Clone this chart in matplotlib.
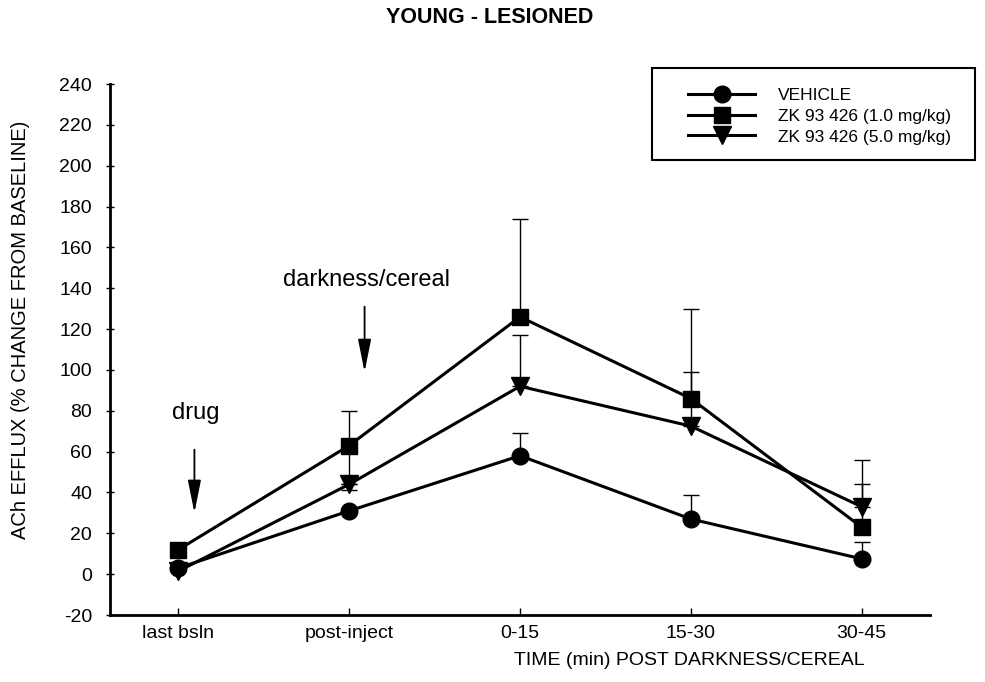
import numpy as np
import matplotlib
matplotlib.use("Agg")
import matplotlib.pyplot as plt
from matplotlib.patches import Rectangle

plt.rcParams['font.family'] = ['Liberation Sans', 'DejaVu Sans']
plt.rcParams['axes.unicode_minus'] = False

# data
categories = ['last bsln', 'post-inject', '0-15', '15-30', '30-45']

vehicle = [3, 31, 58, 27, 7.5]
vehicle_err = [0, 0, 11, 12, 8.5]

zk1 = [12, 63, 126, 86, 23]
zk1_err_lo = [0, 22, 0, 0, 0]
zk1_err_hi = [0, 17, 48, 44, 21]

zk5 = [1.5, 44, 92, 72.5, 33]
zk5_err = [0, 0, 25, 26.5, 23]

fig = plt.figure(figsize=(9.85, 6.82), dpi=100)
ax = fig.add_axes([0.1117, 0.0982, 0.8325, 0.7786])

x = np.arange(len(categories))
lw = 2.2

# error bars first, then lines with markers on top
for vals, lo, hi in [(vehicle, np.zeros(5), vehicle_err),
                     (zk1, zk1_err_lo, zk1_err_hi),
                     (zk5, np.zeros(5), zk5_err)]:
    ax.errorbar(x, vals, yerr=[lo, hi], fmt='none', ecolor='black',
                elinewidth=1, capsize=6, capthick=1)

ax.plot(x, vehicle, color='black', lw=lw, marker='o', ms=12,
        label='VEHICLE')
ax.plot(x, zk1, color='black', lw=lw, marker='s', ms=12,
        label='ZK 93 426 (1.0 mg/kg)')
ax.plot(x, zk5, color='black', lw=lw, marker='v', ms=13,
        label='ZK 93 426 (5.0 mg/kg)')

ax.set_xlim(-0.4, 4.4)
ax.set_ylim(-20, 240)
ax.set_yticks(np.arange(-20, 241, 20))
ax.set_xticks(x)
ax.set_xticklabels(categories)

for s in ['top', 'right']:
    ax.spines[s].set_visible(False)
for s in ['left', 'bottom']:
    ax.spines[s].set_linewidth(2)

ax.tick_params(axis='y', direction='inout', length=6, width=1,
               labelsize=14, pad=10)
ax.tick_params(axis='x', direction='in', length=5, width=1,
               labelsize=14, pad=7)

fig.text(0.021, 0.516, 'ACh EFFLUX (% CHANGE FROM BASELINE)', fontsize=14.5,
         rotation=90, ha='center', va='center')
fig.text(0.70, 0.032, 'TIME (min) POST DARKNESS/CEREAL', fontsize=14,
         ha='center', va='center')
fig.text(0.497, 0.975, 'YOUNG - LESIONED', fontsize=15.5, fontweight='bold',
         ha='center', va='center')

# annotations
arrow = dict(arrowstyle='-|>,head_length=2.0,head_width=0.4',
             color='black', lw=1.3, shrinkA=0, shrinkB=0)
ax.text(0.1, 79, 'drug', fontsize=17, ha='center', va='center')
ax.annotate('', xy=(0.094, 30), xytext=(0.094, 61), arrowprops=arrow)
ax.text(1.1, 144, 'darkness/cereal', fontsize=17, ha='center', va='center')
ax.annotate('', xy=(1.09, 99), xytext=(1.09, 131), arrowprops=arrow)

# legend, with its frame drawn separately so it can stick out past the axes
fig.patches.append(Rectangle((0.662, 0.7654), 0.328, 0.1349,
                             transform=fig.transFigure, fill=False,
                             edgecolor='black', lw=1.5))
leg = ax.legend(loc='upper left', bbox_to_anchor=(0.6985, 0.871),
                bbox_transform=fig.transFigure, frameon=False,
                fontsize=12.5, handlelength=3.86, borderpad=0,
                labelspacing=0.32, handletextpad=1.32, borderaxespad=0)

fig.savefig('out.png', dpi=100)
